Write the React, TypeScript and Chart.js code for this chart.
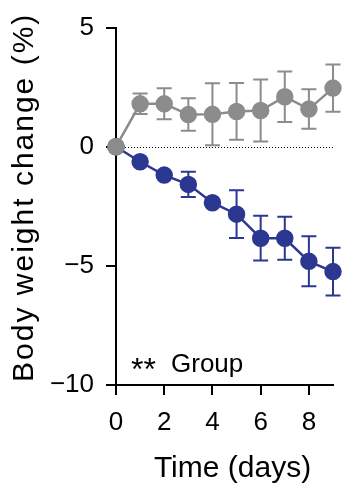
import React, { useEffect, useRef } from "react";
import { Chart, registerables } from "chart.js";

Chart.register(...registerables);

const days = [0, 1, 2, 3, 4, 5, 6, 7, 8, 9];
const grayMean = [0, 1.8, 1.8, 1.35, 1.36, 1.48, 1.52, 2.1, 1.58, 2.46];
const grayErr = [0, 0.43, 0.65, 0.68, 1.3, 1.19, 1.3, 1.06, 0.83, 0.99];
const blueMean = [0, -0.63, -1.19, -1.58, -2.35, -2.83, -3.84, -3.84, -4.81, -5.24];
const blueErr = [0, 0.1, 0.1, 0.53, 0.1, 1.0, 0.94, 0.9, 1.05, 1.0];
const yTicks = [5, 0, -5, -10];
const xTicks = [0, 2, 4, 6, 8];
const xTitle = "Time (days)";
const yTitle = "Body weight change (%)";
const groupStars = "**";
const groupLabel = "Group";

const GRAY = "#8c8c8c";
const BLUE = "#2b3791";
const FONT = "'Liberation Sans', Arial, Helvetica, sans-serif";

const errorBarPlugin = {
  id: "errorBars",
  beforeDatasetDraw(chart: any, args: any) {
    const ds: any = chart.data.datasets[args.index];
    const errs: number[] = ds.errors;
    if (!errs) return;
    const xs = chart.scales.x;
    const ys = chart.scales.y;
    const ctx = chart.ctx;
    ctx.save();
    ctx.strokeStyle = ds.borderColor;
    ctx.lineWidth = 2;
    ds.data.forEach((p: any, i: number) => {
      const e = errs[i];
      if (!e) return;
      const px = xs.getPixelForValue(p.x);
      const top = ys.getPixelForValue(p.y + e);
      const bot = ys.getPixelForValue(p.y - e);
      const cw = 7.5;
      ctx.beginPath();
      ctx.moveTo(px, top);
      ctx.lineTo(px, bot);
      ctx.moveTo(px - cw, top);
      ctx.lineTo(px + cw, top);
      ctx.moveTo(px - cw, bot);
      ctx.lineTo(px + cw, bot);
      ctx.stroke();
    });
    ctx.restore();
  },
};

const zeroLinePlugin = {
  id: "zeroLine",
  beforeDatasetsDraw(chart: any) {
    const xs = chart.scales.x;
    const ys = chart.scales.y;
    const ctx = chart.ctx;
    const y = Math.round(ys.getPixelForValue(0)) + 0.5;
    ctx.save();
    ctx.strokeStyle = "#000";
    ctx.lineWidth = 1;
    ctx.setLineDash([1, 2]);
    ctx.beginPath();
    ctx.moveTo(xs.getPixelForValue(0), y);
    ctx.lineTo(xs.getPixelForValue(9), y);
    ctx.stroke();
    ctx.restore();
  },
};

const textPlugin = {
  id: "texts",
  afterDraw(chart: any) {
    const { ctx, chartArea } = chart;
    ctx.save();
    ctx.fillStyle = "#000";
    // group annotation
    ctx.textBaseline = "alphabetic";
    ctx.textAlign = "left";
    ctx.font = `32px ${FONT}`;
    ctx.fillText(groupStars, chartArea.left + 15, chartArea.bottom - 5);
    ctx.font = `26px ${FONT}`;
    ctx.fillText(groupLabel, chartArea.left + 55, chartArea.bottom - 13);
    // x title
    ctx.font = `30px ${FONT}`;
    ctx.textAlign = "center";
    ctx.fillText(xTitle, (chartArea.left + chartArea.right) / 2 + 8, chart.height - 14);
    // y title
    (ctx as any).letterSpacing = "2px";
    ctx.translate(33, (chartArea.top + chartArea.bottom) / 2 - 9);
    ctx.rotate(-Math.PI / 2);
    ctx.fillText(yTitle, 0, 0);
    ctx.restore();
  },
};

export default function App() {
  const ref = useRef<HTMLCanvasElement>(null);
  useEffect(() => {
    document.body.style.margin = "0";
    const chart = new Chart(ref.current!, {
      type: "line",
      data: {
        datasets: [
          {
            label: "Control",
            data: days.map((d, i) => ({ x: d, y: grayMean[i] })),
            errors: grayErr,
            borderColor: GRAY,
            backgroundColor: GRAY,
            pointBackgroundColor: GRAY,
            pointBorderColor: GRAY,
            borderWidth: 2.5,
            pointRadius: 7.5,
            clip: false,
          } as any,
          {
            label: "Treated",
            data: days.map((d, i) => ({ x: d, y: blueMean[i] })),
            errors: blueErr,
            borderColor: BLUE,
            backgroundColor: BLUE,
            pointBackgroundColor: BLUE,
            pointBorderColor: BLUE,
            borderWidth: 2.5,
            pointRadius: 7.5,
            clip: false,
          } as any,
        ],
      },
      options: {
        animation: false,
        responsive: true,
        maintainAspectRatio: false,
        layout: { padding: { top: 21, right: 14, left: 0, bottom: 0 } },
        plugins: { legend: { display: false }, tooltip: { enabled: false } },
        scales: {
          x: {
            type: "linear",
            min: 0,
            max: 9,
            afterFit: (s: any) => {
              s.height = 106;
            },
            afterBuildTicks: (s: any) => {
              s.ticks = xTicks.map((v) => ({ value: v }));
            },
            ticks: {
              includeBounds: false,
              color: "#000",
              font: { family: FONT, size: 26 },
              padding: 12,
              maxRotation: 0,
            },
            grid: {
              display: true,
              drawOnChartArea: false,
              drawTicks: true,
              tickLength: 10,
              color: "#000",
              lineWidth: 2,
            },
            border: { display: true, color: "#000", width: 2 },
            title: { display: false },
          },
          y: {
            type: "linear",
            min: -10,
            max: 5,
            afterFit: (s: any) => {
              s.width = 116;
            },
            afterBuildTicks: (s: any) => {
              s.ticks = yTicks.map((v) => ({ value: v }));
            },
            ticks: {
              color: "#000",
              font: { family: FONT, size: 26 },
              padding: 12,
              callback: (v: any) => (Number(v) < 0 ? "\u2212" + Math.abs(Number(v)) : String(v)),
            },
            grid: {
              display: true,
              drawOnChartArea: false,
              drawTicks: true,
              tickLength: 10,
              color: "#000",
              lineWidth: 2,
            },
            border: { display: true, color: "#000", width: 2 },
            title: { display: false },
          },
        },
      } as any,
      plugins: [errorBarPlugin, zeroLinePlugin, textPlugin],
    });
    return () => chart.destroy();
  }, []);
  return (
    <div style={{ position: "fixed", left: 0, top: 0, width: 347, height: 491 }}>
      <canvas ref={ref} />
    </div>
  );
}
